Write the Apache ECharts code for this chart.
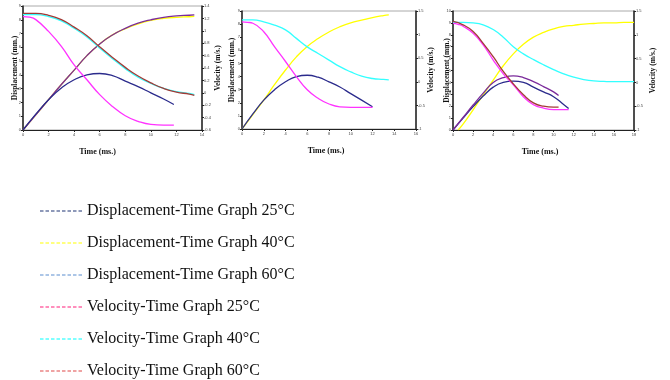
<!DOCTYPE html>
<html>
<head>
<meta charset="utf-8">
<script src="https://cdn.jsdelivr.net/npm/echarts@6/dist/echarts.min.js"></script>
<style>
  html, body { margin: 0; padding: 0; background: #fff; }
  #main { width: 670px; height: 380px; }
</style>
</head>
<body>
<div id="main"></div>
<script>
// chart 1 (time 0-14 ms)
var t1Disp25 = [0, 1, 2, 3, 4, 5, 6, 7, 8, 9, 10, 11, 11.8];
var c1Disp25 = [0, 1.15, 2.2, 3.05, 3.65, 4.0, 4.1, 3.95, 3.55, 3.15, 2.7, 2.25, 1.85];
var t1Rise = [0, 1, 2, 3, 4, 5, 6, 7, 8, 9, 10, 11, 12, 13, 13.4];
var c1Disp40 = [0, 1.1, 2.2, 3.3, 4.35, 5.4, 6.25, 6.9, 7.35, 7.7, 7.95, 8.1, 8.18, 8.22, 8.24];
var c1Disp60 = [0, 1.1, 2.2, 3.3, 4.35, 5.4, 6.25, 6.9, 7.38, 7.75, 8.0, 8.18, 8.28, 8.33, 8.35];
var t1Vel25 = [0, 0.5, 1, 2, 3, 4, 5, 6, 7, 8, 9, 10, 11, 11.8];
var c1Vel25 = [1.23, 1.22, 1.18, 0.99, 0.75, 0.45, 0.21, -0.03, -0.22, -0.37, -0.46, -0.51, -0.52, -0.52];
var t1Fall = [0, 1, 2, 3, 4, 5, 6, 7, 8, 9, 10, 11, 12, 13, 13.4];
var c1Vel40 = [1.26, 1.26, 1.23, 1.16, 1.04, 0.9, 0.72, 0.55, 0.39, 0.25, 0.15, 0.07, 0.02, -0.01, -0.03];
var c1Vel60 = [1.28, 1.28, 1.25, 1.18, 1.06, 0.92, 0.74, 0.57, 0.41, 0.27, 0.16, 0.07, 0.01, -0.02, -0.04];

// chart 2 (time 0-16 ms)
var t2Disp25 = [0, 1, 2, 3, 4, 5, 6, 7, 8, 9, 10, 11, 12];
var c2Disp25 = [0, 1.15, 2.2, 3.0, 3.6, 4.0, 4.1, 3.95, 3.6, 3.2, 2.7, 2.2, 1.7];
var t2Disp40 = [0, 1, 2, 3, 4, 5, 6, 7, 8, 9, 10, 11, 12, 13, 13.5];
var c2Disp40 = [0, 1.1, 2.2, 3.4, 4.5, 5.5, 6.3, 6.9, 7.4, 7.8, 8.1, 8.3, 8.5, 8.65, 8.7];
var t2Vel25 = [0, 0.5, 1, 2, 3, 4, 5, 6, 7, 8, 9, 10, 11, 12];
var c2Vel25 = [1.27, 1.26, 1.24, 1.06, 0.74, 0.43, 0.11, -0.17, -0.35, -0.47, -0.53, -0.54, -0.54, -0.54];
var t2Vel40 = [0, 1, 2, 3, 4, 5, 6, 7, 8, 9, 10, 11, 12, 13, 13.5];
var c2Vel40 = [1.31, 1.31, 1.27, 1.2, 1.1, 0.92, 0.74, 0.6, 0.46, 0.32, 0.21, 0.12, 0.07, 0.05, 0.04];

// chart 3 (time 0-18 ms)
var t3Disp25 = [0, 1, 2, 3, 4, 5, 6, 7, 8, 9, 10, 11, 11.5];
var c3Disp25 = [0, 1.0, 1.96, 2.85, 3.6, 4.0, 4.1, 4.0, 3.6, 3.2, 2.8, 2.15, 1.8];
var t3Disp40 = [0.5, 1, 2, 3, 4, 5, 6, 7, 8, 9, 10, 11, 12, 13, 14, 15, 16, 17, 18];
var c3Disp40 = [0, 0.5, 1.7, 2.95, 4.2, 5.4, 6.4, 7.2, 7.8, 8.2, 8.5, 8.7, 8.8, 8.9, 8.95, 9.0, 9.0, 9.05, 9.05];
var t3Disp60 = [0, 1, 2, 3, 4, 5, 6, 7, 8, 9, 10, 10.5];
var c3Disp60 = [0, 1.05, 2.1, 3.1, 4.0, 4.4, 4.55, 4.4, 4.06, 3.65, 3.2, 2.9];
var t3Vel25 = [0, 0.5, 1, 2, 3, 4, 5, 6, 7, 8, 9, 10, 11, 11.5];
var c3Vel25 = [1.24, 1.22, 1.18, 1.03, 0.79, 0.47, 0.18, -0.05, -0.3, -0.47, -0.54, -0.57, -0.57, -0.57];
var t3Vel40 = [0, 1, 2, 3, 4, 5, 6, 7, 8, 9, 10, 11, 12, 13, 14, 15, 16, 17, 18];
var c3Vel40 = [1.26, 1.26, 1.25, 1.21, 1.11, 0.95, 0.75, 0.6, 0.48, 0.37, 0.27, 0.18, 0.11, 0.06, 0.03, 0.02, 0.015, 0.015, 0.015];
var t3Vel60 = [0, 1, 2, 3, 4, 5, 6, 7, 8, 9, 10, 10.5];
var c3Vel60 = [1.28, 1.21, 1.07, 0.82, 0.54, 0.23, -0.03, -0.26, -0.43, -0.5, -0.52, -0.52];

// axis ranges
var xMax = [14, 16, 18];
var dispMax = [9, 9, 10];
var velMin = [-0.6, -1, -1];
var velMax = [1.4, 1.5, 1.5];
var velStep = [0.2, 0.5, 0.5];

var legendNames = [
    'Displacement-Time Graph 25°C',
    'Displacement-Time Graph 40°C',
    'Displacement-Time Graph 60°C',
    'Velocity-Time Graph 25°C',
    'Velocity-Time Graph 40°C',
    'Velocity-Time Graph 60°C'
];
var legendColors = ['#1f3474', '#ffff00', '#5b8ed0', '#ff1f7a', '#00ffff', '#e04848'];

var serif = 'Liberation Serif';
// dashed stroke drawn as a legend icon
var dashIcon = 'path://M0 0h3.5v1h-3.5z M5.5 0h3.5v1h-3.5z M11 0h3.5v1h-3.5z M16.5 0h3.5v1h-3.5z ' +
    'M22 0h3.5v1h-3.5z M27.5 0h3.5v1h-3.5z M33 0h3.5v1h-3.5z M38.5 0h3.5v1h-3.5z';

function pairs(t, v) {
    return t.map(function (x, i) { return [x, v[i]]; });
}

var grids = [
    {left: 23, top: 6, width: 179, height: 124},
    {left: 242, top: 11, width: 174, height: 118},
    {left: 453, top: 11, width: 181, height: 119}
];
var leftGap = [4, 6, 2];
var rightGap = [12, 11, 15];
var timeShift = [30, 6, 7];

var xAxes = [], yAxes = [];
grids.forEach(function (g, i) {
    g.show = true;
    g.borderColor = '#aaa';
    g.borderWidth = 1;
    xAxes.push({
        type: 'value', gridIndex: i, min: 0, max: xMax[i], interval: 2,
        name: 'Time (ms.)', nameLocation: 'middle', nameGap: 18, nameMoveOverlap: false,
        nameTextStyle: {fontFamily: serif, fontWeight: 'bold', fontSize: 8, color: '#111', padding: [0, timeShift[i], 0, 0]},
        axisLine: {lineStyle: {color: '#222', width: 1}},
        axisTick: {length: 2, lineStyle: {color: '#222'}},
        axisLabel: {fontSize: 4, color: '#444', margin: 3},
        splitLine: {show: false}
    });
    yAxes.push({
        type: 'value', gridIndex: i, min: 0, max: dispMax[i], interval: 1,
        name: 'Displacement (mm.)', nameLocation: 'middle', nameGap: leftGap[i], nameMoveOverlap: false,
        nameTextStyle: {fontFamily: serif, fontWeight: 'bold', fontSize: 7.5, color: '#111'},
        axisLine: {show: true, lineStyle: {color: '#222', width: 1.5}},
        axisTick: {length: 2, lineStyle: {color: '#222'}},
        axisLabel: {fontSize: 4, color: '#444', margin: 2},
        splitLine: {show: false}
    });
    yAxes.push({
        type: 'value', gridIndex: i, position: 'right', min: velMin[i], max: velMax[i], interval: velStep[i],
        name: 'Velocity (m/s.)', nameLocation: 'middle', nameGap: rightGap[i], nameRotate: 90, nameMoveOverlap: false,
        nameTextStyle: {fontFamily: serif, fontWeight: 'bold', fontSize: 7.5, color: '#111'},
        axisLine: {show: true, lineStyle: {color: '#222', width: 1.5}},
        axisTick: {length: 2, lineStyle: {color: '#222'}},
        axisLabel: {fontSize: 4, color: '#444', margin: 2},
        splitLine: {show: false}
    });
});

function line(grid, axis, t, v, color) {
    return {
        type: 'line', xAxisIndex: grid, yAxisIndex: grid * 2 + axis,
        data: pairs(t, v), smooth: true, symbol: 'none',
        lineStyle: {color: color, width: 1.3}, silent: true
    };
}

var navy = '#2b2b8c', magenta = '#ff33ff', purple = '#7b2b9b', yellow = '#ffff00', brown = '#a23a36', cyan = '#33ffff';

var series = [
    line(0, 0, t1Rise, c1Disp40, yellow),
    line(0, 0, t1Rise, c1Disp60, purple),
    line(0, 0, t1Disp25, c1Disp25, navy),
    line(0, 1, t1Vel25, c1Vel25, magenta),
    line(0, 1, t1Fall, c1Vel40, cyan),
    line(0, 1, t1Fall, c1Vel60, brown),

    line(1, 0, t2Disp40, c2Disp40, yellow),
    line(1, 0, t2Disp25, c2Disp25, navy),
    line(1, 1, t2Vel25, c2Vel25, magenta),
    line(1, 1, t2Vel40, c2Vel40, cyan),

    line(2, 0, t3Disp40, c3Disp40, yellow),
    line(2, 0, t3Disp25, c3Disp25, navy),
    line(2, 0, t3Disp60, c3Disp60, purple),
    line(2, 1, t3Vel40, c3Vel40, cyan),
    line(2, 1, t3Vel25, c3Vel25, magenta),
    line(2, 1, t3Vel60, c3Vel60, brown)
];

// empty series only for the legend below the charts
legendNames.forEach(function (n, i) {
    series.push({
        type: 'line', name: n, xAxisIndex: 0, yAxisIndex: 0, data: [],
        symbol: 'none', itemStyle: {color: legendColors[i]},
        lineStyle: {color: legendColors[i], width: 1}
    });
});

var myChart = echarts.init(document.getElementById('main'));
myChart.setOption({
    animation: false,
    backgroundColor: '#fff',
    grid: grids,
    xAxis: xAxes,
    yAxis: yAxes,
    legend: {
        data: legendNames.map(function (n) { return {name: n, icon: dashIcon}; }),
        orient: 'vertical',
        left: 40, top: 203, padding: 0,
        itemWidth: 42, itemHeight: 10, itemGap: 16,
        selectedMode: false,
        textStyle: {fontFamily: serif, fontSize: 16, lineHeight: 16, color: '#111'}
    },
    series: series
});
</script>
</body>
</html>
